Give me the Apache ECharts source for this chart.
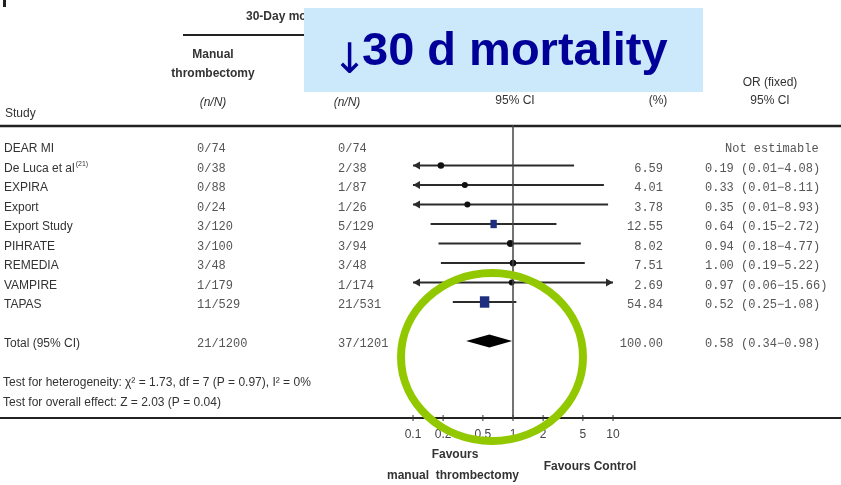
<!DOCTYPE html>
<html><head><meta charset="utf-8">
<script src="https://cdn.jsdelivr.net/npm/echarts@6/dist/echarts.min.js"></script>
<style>html,body{margin:0;padding:0;background:#fff}#c{width:841px;height:485px}</style>
</head><body><div id="c"></div>
<script>
// ---- data ----
const studies = ['DEAR MI', 'De Luca et al', 'EXPIRA', 'Export', 'Export Study', 'PIHRATE', 'REMEDIA', 'VAMPIRE', 'TAPAS'];
const manualCounts = ['0/74', '0/38', '0/88', '0/24', '3/120', '3/100', '3/48', '1/179', '11/529'];
const controlCounts = ['0/74', '2/38', '1/87', '1/26', '5/129', '3/94', '3/48', '1/174', '21/531'];
const weights = [null, 6.59, 4.01, 3.78, 12.55, 8.02, 7.51, 2.69, 54.84];
const oddsRatios = [null, 0.19, 0.33, 0.35, 0.64, 0.94, 1.00, 0.97, 0.52];
const ciLower = [null, 0.01, 0.01, 0.01, 0.15, 0.18, 0.19, 0.06, 0.25];
const ciUpper = [null, 4.08, 8.11, 8.93, 2.72, 4.77, 5.22, 15.66, 1.08];
const totalLabel = 'Total (95% CI)';
const totalManual = '21/1200';
const totalControl = '37/1201';
const totalWeight = 100.00;
const totalOR = 0.58, totalLower = 0.34, totalUpper = 0.98;
const tickValues = [0.1, 0.2, 0.5, 1, 2, 5, 10];
const tickLabels = ['0.1', '0.2', '0.5', '1', '2', '5', '10'];
const TOTAL_ROW = 10;

// ---- helpers ----
const fmt = v => v.toFixed(2);
const orString = (o, l, u) => fmt(o) + ' (' + fmt(l) + '\u2212' + fmt(u) + ')';
const NARROW = "'Liberation Sans Narrow','Arial Narrow','Liberation Sans',Arial,sans-serif";
const MONO = "'Liberation Mono','DejaVu Sans Mono',monospace";
const XMIN = 0.1, XMAX = 10;

const ciData = [];
studies.forEach((s, i) => {
  if (oddsRatios[i] != null) ciData.push([oddsRatios[i], i, ciLower[i], ciUpper[i], weights[i]]);
});

const textData = studies.map((s, i) => [1, i]);
textData.push([1, TOTAL_ROW]);

function rowTexts(params, api) {
  const i = params.dataIndex;
  const row = api.value(1);
  const y = api.coord([1, row])[1] + 3;
  const isTotal = row === TOTAL_ROW;
  const name = isTotal ? totalLabel : studies[i];
  const man = isTotal ? totalManual : manualCounts[i];
  const ctl = isTotal ? totalControl : controlCounts[i];
  const w = isTotal ? totalWeight : weights[i];
  const children = [];
  if (name === 'De Luca et al') {
    children.push({ type: 'text', style: { x: 4, y: y, text: '{a|' + name + '}{s|(21)}', verticalAlign: 'middle', align: 'left',
      rich: { a: { fill: '#333', fontSize: 12, fontFamily: NARROW }, s: { fill: '#333', fontSize: 7, fontFamily: NARROW, padding: [0, 0, 9, 1] } } } });
  } else {
    children.push({ type: 'text', style: { x: 4, y: y, text: name, fill: '#333', font: '12px ' + NARROW, verticalAlign: 'middle', align: 'left' } });
  }
  children.push({ type: 'text', style: { x: 197, y: y, text: man, fill: '#555', font: '12px ' + MONO, verticalAlign: 'middle' } });
  children.push({ type: 'text', style: { x: 338, y: y, text: ctl, fill: '#555', font: '12px ' + MONO, verticalAlign: 'middle' } });
  if (w == null) {
    children.push({ type: 'text', style: { x: 725, y: y, text: 'Not estimable', fill: '#555', font: '12px ' + MONO, verticalAlign: 'middle' } });
  } else {
    children.push({ type: 'text', style: { x: 663, y: y, text: fmt(w), fill: '#555', font: '12px ' + MONO, verticalAlign: 'middle', align: 'right' } });
    const s = isTotal ? orString(totalOR, totalLower, totalUpper) : orString(oddsRatios[i], ciLower[i], ciUpper[i]);
    children.push({ type: 'text', style: { x: 705, y: y, text: s, fill: '#555', font: '12px ' + MONO, verticalAlign: 'middle' } });
  }
  return { type: 'group', children: children };
}

function ciItem(params, api) {
  const or = api.value(0), row = api.value(1), lo = api.value(2), hi = api.value(3), w = api.value(4);
  const c = api.coord([or, row]);
  const y = c[1];
  const x1 = api.coord([Math.max(lo, XMIN), row])[0];
  const x2 = api.coord([Math.min(hi, XMAX), row])[0];
  const col = '#2b2b2b';
  const children = [{ type: 'line', shape: { x1: x1, y1: y, x2: x2, y2: y }, style: { stroke: col, lineWidth: 1.8 } }];
  if (lo < XMIN) children.push({ type: 'polygon', shape: { points: [[x1, y], [x1 + 7, y - 4], [x1 + 7, y + 4]] }, style: { fill: col } });
  if (hi > XMAX) children.push({ type: 'polygon', shape: { points: [[x2, y], [x2 - 7, y - 4], [x2 - 7, y + 4]] }, style: { fill: col } });
  const size = 3.5 + 0.8 * Math.sqrt(w);
  if (w >= 10) {
    children.push({ type: 'rect', shape: { x: c[0] - size / 2, y: y - size / 2 - 1, width: size, height: size + 2 }, style: { fill: '#1f2f7f' } });
  } else {
    children.push({ type: 'circle', shape: { cx: c[0], cy: y, r: size / 2 + 0.5 }, style: { fill: '#111' } });
  }
  return { type: 'group', children: children };
}

function totalItem(params, api) {
  const row = api.value(1);
  const c = api.coord([api.value(0), row]);
  const l = api.coord([api.value(2), row]);
  const h = api.coord([api.value(3), row]);
  return { type: 'polygon', shape: { points: [[l[0], c[1]], [c[0], c[1] - 6.5], [h[0], c[1]], [c[0], c[1] + 6.5]] }, style: { fill: '#000' } };
}

function tickItem(params, api) {
  const v = api.value(0);
  const c = api.coord([v, 13.949]);
  return { type: 'group', children: [
    { type: 'line', shape: { x1: c[0], y1: c[1] - 3, x2: c[0], y2: c[1] + 3 }, style: { stroke: '#333', lineWidth: 1 } },
    { type: 'text', style: { x: c[0], y: c[1] + 17, text: tickLabels[params.dataIndex], fill: '#444', font: '12px ' + NARROW, align: 'center', verticalAlign: 'middle' } }
  ] };
}

const chart = echarts.init(document.getElementById('c'), null, { renderer: 'canvas' });
const hdr = (x, y, t, align, extra) => Object.assign({ type: 'text', silent: true, style: Object.assign({ x: x, y: y, text: t, fill: '#333', font: '12px ' + NARROW, align: align || 'center', verticalAlign: 'middle' }, extra || {}) });

chart.setOption({
  animation: false,
  backgroundColor: '#fff',
  grid: { left: 413, width: 200, top: 125, height: 293 },
  xAxis: { type: 'log', logBase: 10, min: XMIN, max: XMAX, show: false },
  yAxis: { type: 'value', min: -1.0769, max: 13.949, inverse: true, show: false },
  series: [
    { type: 'custom', renderItem: ciItem, data: ciData, silent: true, z: 3,
      markLine: { silent: true, symbol: 'none', label: { show: false }, lineStyle: { color: '#444', width: 1.5, type: 'solid' }, data: [{ xAxis: 1 }] } },
    { type: 'custom', renderItem: totalItem, data: [[totalOR, TOTAL_ROW, totalLower, totalUpper]], silent: true, z: 4 },
    { type: 'custom', renderItem: rowTexts, data: textData, silent: true, z: 2 },
    { type: 'custom', renderItem: tickItem, data: tickValues.map(v => [v, 0]), silent: true, z: 2 }
  ],
  graphic: [
    { type: 'rect', shape: { x: 3, y: 0, width: 3, height: 7 }, style: { fill: '#222' }, silent: true },
    { type: 'line', shape: { x1: 0, y1: 126, x2: 841, y2: 126 }, style: { stroke: '#222', lineWidth: 2.5 }, silent: true },
    { type: 'line', shape: { x1: 0, y1: 418, x2: 841, y2: 418 }, style: { stroke: '#222', lineWidth: 2 }, silent: true },
    { type: 'line', shape: { x1: 183, y1: 35, x2: 400, y2: 35 }, style: { stroke: '#222', lineWidth: 2 }, silent: true },
    hdr(246, 17, '30-Day mortality', 'left', { font: 'bold 12px ' + NARROW }),
    hdr(213, 55, 'Manual', 'center', { font: 'bold 12px ' + NARROW }),
    hdr(213, 74, 'thrombectomy', 'center', { font: 'bold 12px ' + NARROW }),
    hdr(213, 103, '(n/N)', 'center', { font: 'italic 12px ' + NARROW }),
    hdr(347, 55, 'Control', 'center', { font: 'bold 12px ' + NARROW }),
    hdr(347, 103, '(n/N)', 'center', { font: 'italic 12px ' + NARROW }),
    hdr(515, 83, 'OR (fixed)'),
    hdr(515, 101, '95% CI'),
    hdr(658, 83, 'Weight'),
    hdr(658, 101, '(%)'),
    hdr(770, 83, 'OR (fixed)'),
    hdr(770, 101, '95% CI'),
    hdr(5, 114, 'Study', 'left'),
    hdr(3, 383, 'Test for heterogeneity: \u03c7\u00b2 = 1.73, df = 7 (P = 0.97), I\u00b2 = 0%', 'left', { font: '12px ' + NARROW }),
    hdr(3, 403, 'Test for overall effect: Z = 2.03 (P = 0.04)', 'left', { font: '12px ' + NARROW }),
    hdr(455, 455, 'Favours', 'center', { font: 'bold 12px ' + NARROW }),
    hdr(453, 476, 'manual  thrombectomy', 'center', { font: 'bold 12px ' + NARROW }),
    hdr(590, 467, 'Favours Control', 'center', { font: 'bold 12px ' + NARROW }),
    { type: 'rect', z: 50, shape: { x: 304, y: 8, width: 399, height: 84 }, style: { fill: '#cce9fb' }, silent: true },
    { type: 'text', z: 51, silent: true, style: { x: 332, y: 62, text: '\u2193', fill: '#000099', font: '42px "DejaVu Sans", sans-serif', verticalAlign: 'middle' } },
    { type: 'text', z: 51, silent: true, style: { x: 362, y: 52, text: '30 d mortality', fill: '#000099', font: 'bold 47px "Liberation Sans", Arial, sans-serif', verticalAlign: 'middle' } },
    { type: 'ellipse', z: 60, silent: true, shape: { cx: 492, cy: 357, rx: 91, ry: 84 }, style: { fill: 'none', stroke: '#92c800', lineWidth: 8 } }
  ]
});
</script></body></html>
